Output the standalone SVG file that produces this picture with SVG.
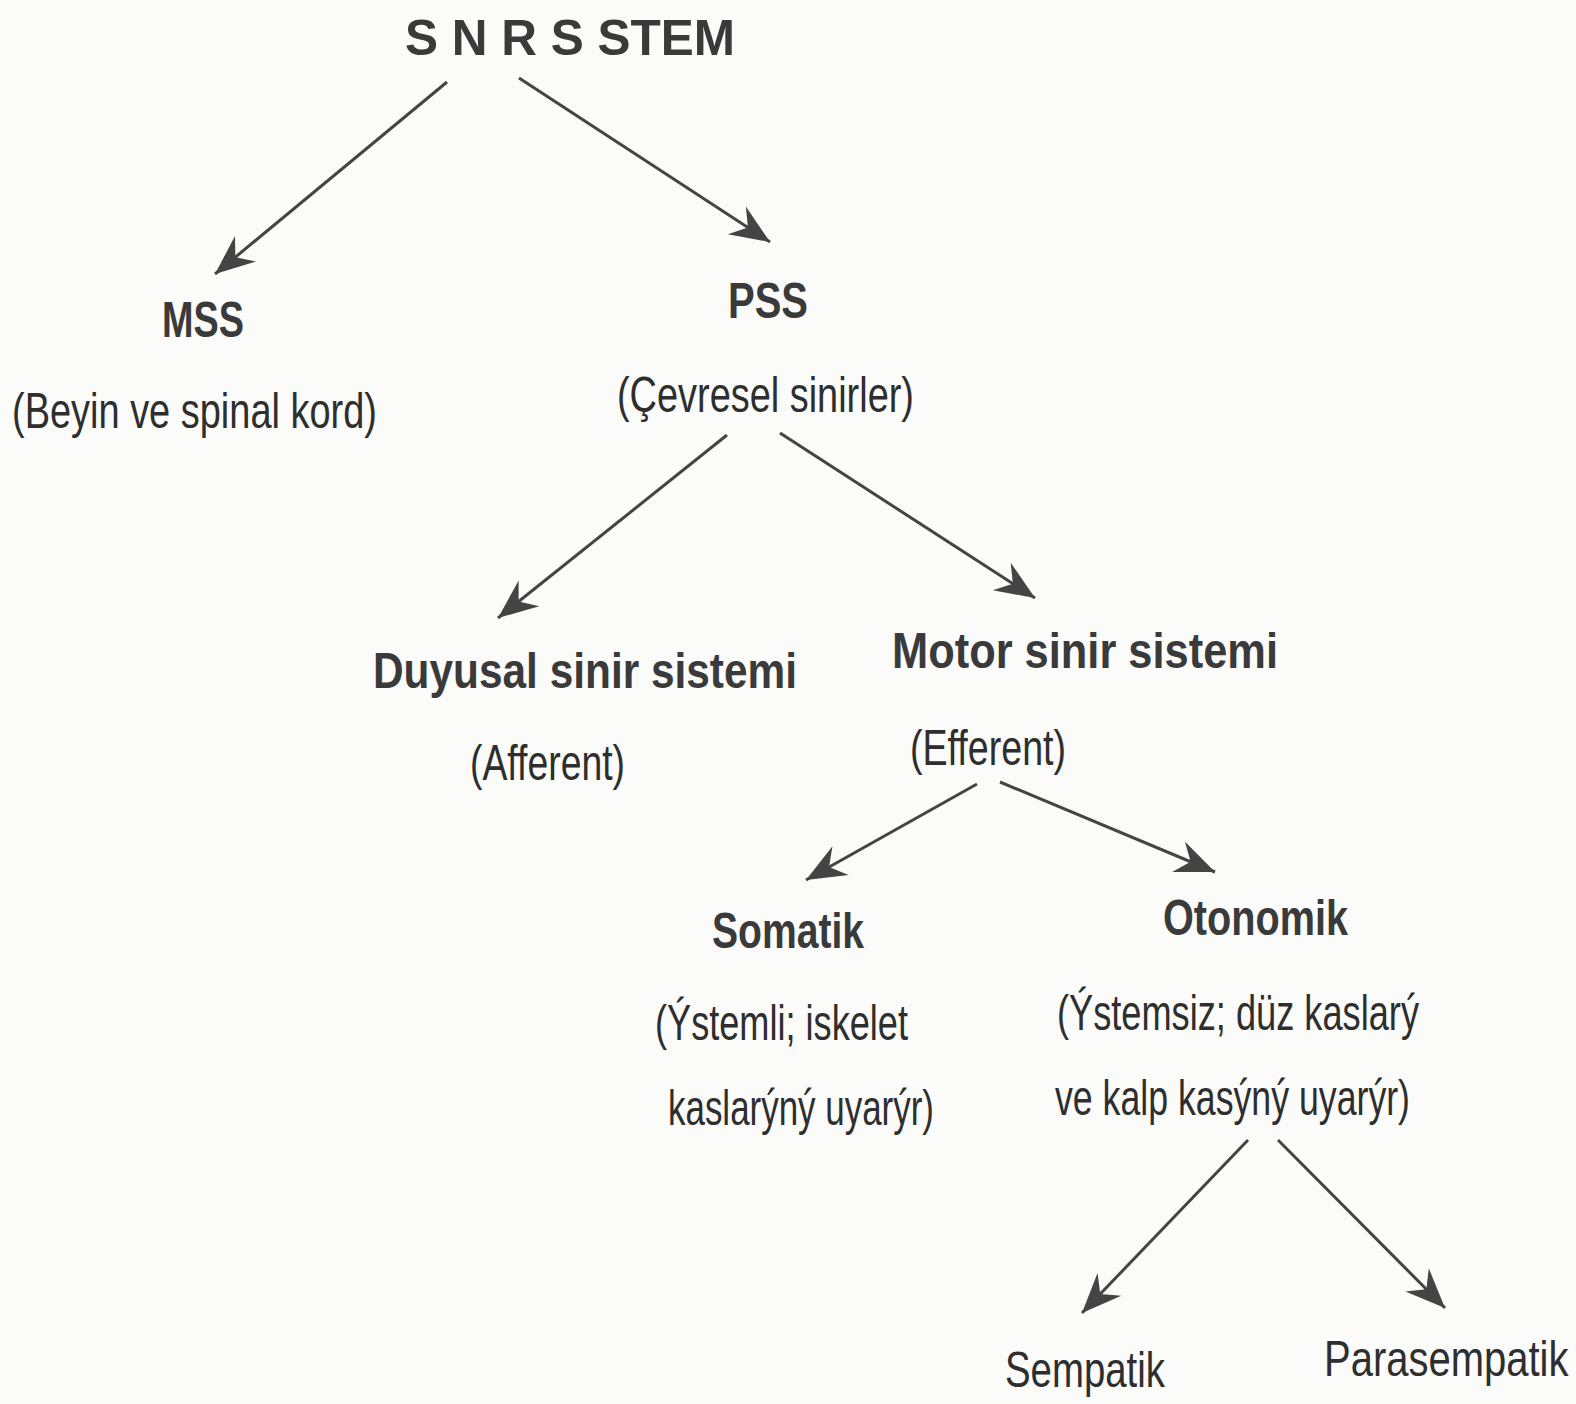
<svg xmlns="http://www.w3.org/2000/svg" width="1576" height="1404" viewBox="0 0 1576 1404">
<style>
.t{font-family:"Liberation Sans",Arial,sans-serif;font-size:50px;fill:#2e2e2e}
.b{font-weight:bold;fill:#3a3a3a}
.c{stroke:#444;stroke-width:3;fill:none;marker-end:url(#ah)}
</style>
<defs>
<marker id="ah" markerUnits="userSpaceOnUse" markerWidth="44" markerHeight="40" viewBox="-38 -18 40 36" refX="0" refY="0" orient="auto">
<path d="M0,0 L-36,-15 L-24,0 L-36,15 Z" fill="#444"/>
</marker>
</defs>
<rect width="1576" height="1404" fill="#fbfbfa"/>
<g id="connectors">
<line class="c" x1="447" y1="82" x2="215" y2="274"/>
<line class="c" x1="519" y1="78" x2="770" y2="242"/>
<line class="c" x1="727" y1="435" x2="498" y2="618"/>
<line class="c" x1="780" y1="433" x2="1035" y2="598"/>
<line class="c" x1="977" y1="784" x2="806" y2="880"/>
<line class="c" x1="1000" y1="782" x2="1215" y2="872"/>
<line class="c" x1="1248" y1="1140" x2="1082" y2="1313"/>
<line class="c" x1="1278" y1="1140" x2="1445" y2="1308"/>
</g>
<g id="n-sinir-sistemi"><text class="t b" x="405" y="55" font-size="49" textLength="330" lengthAdjust="spacingAndGlyphs">S N R S STEM</text></g>
<g id="n-mss">
<text class="t b" x="162" y="337" font-size="51" textLength="82" lengthAdjust="spacingAndGlyphs">MSS</text>
<text class="t" x="12" y="428" textLength="365" lengthAdjust="spacingAndGlyphs">(Beyin ve spinal kord)</text>
</g>
<g id="n-pss">
<text class="t b" x="728" y="318" font-size="51" textLength="80" lengthAdjust="spacingAndGlyphs">PSS</text>
<text class="t" x="617" y="412" textLength="297" lengthAdjust="spacingAndGlyphs">(Çevresel sinirler)</text>
</g>
<g id="n-duyusal">
<text class="t b" x="373" y="688" font-size="48" textLength="424" lengthAdjust="spacingAndGlyphs">Duyusal sinir sistemi</text>
<text class="t" x="470" y="780" textLength="155" lengthAdjust="spacingAndGlyphs">(Afferent)</text>
</g>
<g id="n-motor">
<text class="t b" x="892" y="668" font-size="48" textLength="386" lengthAdjust="spacingAndGlyphs">Motor sinir sistemi</text>
<text class="t" x="910" y="765" textLength="156" lengthAdjust="spacingAndGlyphs">(Efferent)</text>
</g>
<g id="n-somatik">
<text class="t b" x="712" y="948" font-size="48" textLength="152" lengthAdjust="spacingAndGlyphs">Somatik</text>
<text class="t" x="655" y="1040" textLength="253" lengthAdjust="spacingAndGlyphs">(Ýstemli; iskelet</text>
<text class="t" x="668" y="1125" textLength="266" lengthAdjust="spacingAndGlyphs">kaslarýný uyarýr)</text>
</g>
<g id="n-otonomik">
<text class="t b" x="1163" y="935" font-size="48" textLength="185" lengthAdjust="spacingAndGlyphs">Otonomik</text>
<text class="t" x="1057" y="1030" textLength="362" lengthAdjust="spacingAndGlyphs">(Ýstemsiz; düz kaslarý</text>
<text class="t" x="1055" y="1115" textLength="355" lengthAdjust="spacingAndGlyphs">ve kalp kasýný uyarýr)</text>
</g>
<g id="n-sempatik"><text class="t" x="1005" y="1387" textLength="160" lengthAdjust="spacingAndGlyphs">Sempatik</text></g>
<g id="n-parasempatik"><text class="t" transform="translate(1324,1376) scale(0.8,1)" x="0" y="0">Parasempatik</text></g>
</svg>
